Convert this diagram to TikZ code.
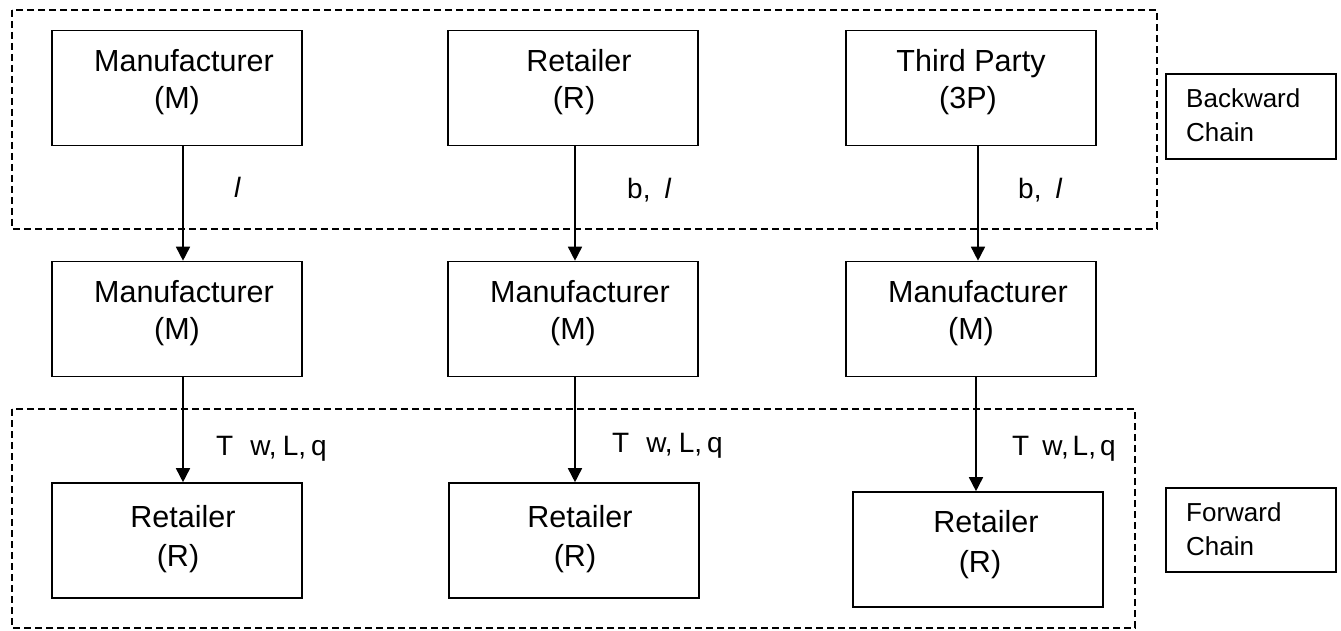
\documentclass[tikz,border=0pt]{standalone}
\usepackage{fontspec}
\setmainfont{Liberation Sans}
\usetikzlibrary{arrows.meta}
\begin{document}
\begin{tikzpicture}[x=1pt,y=-1pt,
  box/.style={draw,line width=1.6pt,rectangle,inner sep=0pt,minimum width=250pt,minimum height=115pt},
  chainbox/.style={draw,line width=1.4pt,rectangle,inner sep=0pt},
  dashbox/.style={draw,line width=1.3pt,dash pattern=on 7pt off 4pt},
  txt/.style={font=\fontsize{30.5}{36}\selectfont,anchor=base,inner sep=0pt},
  lbl/.style={font=\fontsize{26}{30}\selectfont,anchor=base,inner sep=0pt},
  mlbl/.style={font=\fontsize{28}{30}\selectfont,anchor=base west,inner sep=0pt},
  arr/.style={line width=1.6pt,-{Triangle[length=14pt,width=14pt]}}]
\useasboundingbox (0,0) rectangle (1341,631);
% dashed regions
\draw[dashbox] (12,10) rectangle (1157,229);
\draw[dashbox] (12,409) rectangle (1135,628);
% top row
\node[box] (TM) at (177,88) {};
\node[box] (TR) at (573,88) {};
\node[box] (T3) at (971,88) {};
\node[txt] (tm1) at (184,72) {Manufacturer};
\node[txt] (tm2) at (177,109) {(M)};
\node[txt] (tr1) at (579,72) {Retailer};
\node[txt] (tr2) at (574,109) {(R)};
\node[txt] (t31) at (971,72) {Third Party};
\node[txt] (t32) at (968,109) {(3P)};
% middle row
\node[box] (M1) at (177,319) {};
\node[box] (M2) at (573,319) {};
\node[box] (M3) at (971,319) {};
\node[txt] (m11) at (184,302) {Manufacturer};
\node[txt] (m12) at (177,339) {(M)};
\node[txt] (m21) at (580,302) {Manufacturer};
\node[txt] (m22) at (573,339) {(M)};
\node[txt] (m31) at (978,302) {Manufacturer};
\node[txt] (m32) at (971,339) {(M)};
% bottom row
\node[box] (B1) at (177,540.5) {};
\node[box] (B2) at (574,540.5) {};
\node[box] (B3) at (978,549.5) {};
\node[txt] (b11) at (183,527) {Retailer};
\node[txt] (b12) at (178,566) {(R)};
\node[txt] (b21) at (580,527) {Retailer};
\node[txt] (b22) at (575,566) {(R)};
\node[txt] (b31) at (986,532) {Retailer};
\node[txt] (b32) at (980,572) {(R)};
% chain labels
\node[chainbox,minimum width=170pt,minimum height=85pt] (BC) at (1251,116.5) {};
\node[lbl,anchor=base west] (bc1) at (1186,108) {Backward};
\node[lbl,anchor=base west] (bc2) at (1186,142) {Chain};
\node[chainbox,minimum width=170pt,minimum height=84pt] (FC) at (1251,530) {};
\node[lbl,anchor=base west] (fc1) at (1186,521) {Forward};
\node[lbl,anchor=base west] (fc2) at (1186,555) {Chain};
% arrow x positions
\coordinate (a1) at (183,0);
\coordinate (a2) at (575,0);
\coordinate (a3) at (978,0);
\coordinate (c3) at (976,0);
\draw[arr] (TM.south -| a1) -- (M1.north -| a1);
\draw[arr] (TR.south -| a2) -- (M2.north -| a2);
\draw[arr] (T3.south -| a3) -- (M3.north -| a3);
\draw[arr] (M1.south -| a1) -- (B1.north -| a1);
\draw[arr] (M2.south -| a2) -- (B2.north -| a2);
\draw[arr] (M3.south -| c3) -- (B3.north -| c3);
% edge labels
\node[mlbl] (l1) at (234,198) {\itshape l};
\node[mlbl] (l2) at (627,199) {b,\hspace{14pt}\itshape l};
\node[mlbl] (l3) at (1018,199) {b,\hspace{14pt}\itshape l};
\node[mlbl] (q1) at (216,455) {T\hspace{17pt}w,\hspace{6pt}L,\hspace{5pt}q};
\node[mlbl] (q2) at (612,452) {T\hspace{17pt}w,\hspace{6pt}L,\hspace{5pt}q};
\node[mlbl] (q3) at (1012,455) {T\hspace{13pt}w,\hspace{4pt}L,\hspace{4pt}q};
\end{tikzpicture}
\end{document}
